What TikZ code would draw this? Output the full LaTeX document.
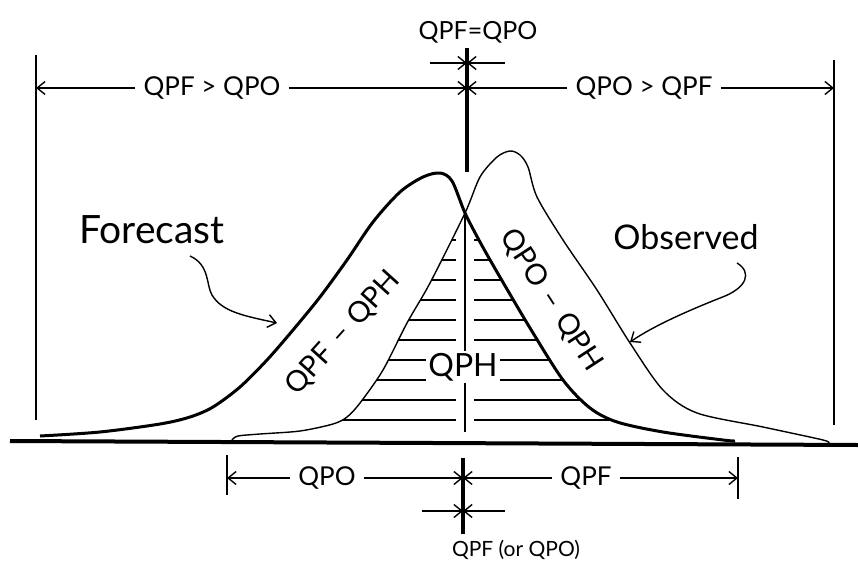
\documentclass[tikz,border=0pt]{standalone}
\usepackage{fontspec}
\setmainfont{Lato}
\usetikzlibrary{arrows.meta}
\begin{document}
\begin{tikzpicture}[x=1pt,y=-1pt,
  thinl/.style={line width=1.4pt},
  arr/.style={line width=1.4pt,-{Straight Barb[length=8pt,width=13pt,line width=1.4pt]}},
  lbl/.style={font=\fontsize{26}{30}\selectfont,inner sep=8pt},
  small/.style={font=\fontsize{25}{29}\selectfont,inner sep=2pt},
  big/.style={font=\fontsize{32}{36}\selectfont,inner sep=2pt},
  heavy/.style={line width=4.5pt},
  fcurve/.style={line width=3pt,line join=round},
  ocurve/.style={line width=1.4pt,line join=round}]
\useasboundingbox (0,0) rectangle (858,575);
\def\fpath{plot[smooth] coordinates {(40,436) (100,432) (160,424) (190,417) (213,407) (240,387) (267,360) (293,330) (320,297) (347,260) (373,222) (400,192) (423,177) (440,173) (452,181) (465,213) (480,242) (497,272) (530,328) (563,380) (590,408) (617,422) (663,432) (723,440) (735,441)}}
\def\opath{plot[smooth] coordinates {(232,440) (238,436) (260,434) (300,431) (333,424) (347,417) (360,403) (383,370) (407,323) (430,283) (465,213) (480,177) (497,157) (510,151) (520,155) (528,167) (537,197) (563,240) (597,290) (630,343) (663,390) (697,413) (763,427) (823,440) (828,443)}}
% hatching
\begin{scope}
  \clip \fpath -- (735,441) -- (40,441) -- cycle;
  \clip \opath -- (828,441) -- (232,441) -- cycle;
  \foreach \y in {240,260,280,300,320,340,360,380,400,420}{
    \draw[thinl] (300,\y) -- (456,\y);
    \draw[thinl] (474,\y) -- (660,\y);
  }
\end{scope}
% curves
\draw[ocurve] \opath;
\draw[fcurve] \fpath;
% thin centre line in QPH area
\coordinate (X) at (465,214);
\coordinate (Xb) at (465,432);
\draw[thinl] (X) -- (Xb);
\node[big,fill=white] (qph) at (463,367) {QPH};
% baseline
\coordinate (b1) at (10,441);
\coordinate (b2) at (858,445);
\draw[line width=4pt] (b1) -- (b2);
% vertical bounds
\coordinate (Lt) at (36,55); \coordinate (Lb) at (36,420);
\coordinate (Rt) at (834,60); \coordinate (Rb) at (834,425);
\draw[thinl] (Lt) -- (Lb);
\draw[thinl] (Rt) -- (Rb);
% centre thick lines
\coordinate (Ct) at (467,48); \coordinate (Cm) at (467,172);
\draw[heavy] (Ct) -- (Cm);
\coordinate (Dt) at (463,458); \coordinate (Db) at (463,534);
\draw[heavy] (Dt) -- (Db);
% top dimension row
\coordinate (L) at (36,88); \coordinate (C) at (467,88); \coordinate (R) at (834,88);
\node[lbl] (t1) at (212,88) {QPF > QPO};
\node[lbl] (t2) at (644,88) {QPO > QPF};
\draw[arr] (t1.west) -- (L);
\draw[arr] (t1.east) -- (C);
\draw[arr] (t2.west) -- (C);
\draw[arr] (t2.east) -- (R);
% QPF=QPO
\node[small] (eq) at (478,32) {QPF=QPO};
\coordinate (e0) at (467,63); \coordinate (e1) at (430,63); \coordinate (e2) at (505,63);
\draw[arr] (e1) -- (e0);
\draw[arr] (e2) -- (e0);
% bottom dimension row
\coordinate (BL) at (227,478); \coordinate (BC) at (463,478); \coordinate (BR) at (738,478);
\coordinate (BLt) at (227,455); \coordinate (BLb) at (227,495);
\coordinate (BRt) at (738,457); \coordinate (BRb) at (738,499);
\draw[thinl] (BLt) -- (BLb);
\draw[thinl] (BRt) -- (BRb);
\node[lbl] (q1) at (327,478) {QPO};
\node[lbl] (q2) at (586,478) {QPF};
\draw[arr] (q1.west) -- (BL);
\draw[arr] (q1.east) -- (BC);
\draw[arr] (q2.west) -- (BC);
\draw[arr] (q2.east) -- (BR);
\coordinate (s0) at (463,511); \coordinate (s1) at (422,511); \coordinate (s2) at (505,511);
\draw[arr] (s1) -- (s0);
\draw[arr] (s2) -- (s0);
\node[font=\fontsize{21}{25}\selectfont,inner sep=2pt] (orq) at (516,550) {QPF (or QPO)};
% region labels
\node[font=\fontsize{29}{33}\selectfont,rotate=48] (fq) at (343,333) {QPF\,\,–\,\,QPH};
\node[font=\fontsize{29}{33}\selectfont,rotate=-57] (oq) at (551,300) {QPO\,\,–\,\,QPH};
% Forecast / Observed labels and arrows
\node[font=\fontsize{39}{44}\selectfont] (fc) at (152,230) {Forecast};
\node[font=\fontsize{34}{38}\selectfont] (ob) at (686,237) {Observed};
\coordinate (fa0) at (190,256); \coordinate (fa1) at (277,323);
\draw[arr] (fa0) .. controls (210,265) and (206,285) .. (212,295) .. controls (222,312) and (245,316) .. (fa1);
\coordinate (oa0) at (737,263); \coordinate (oa1) at (630,342);
\draw[arr] (oa0) .. controls (752,272) and (748,288) .. (720,298) .. controls (690,310) and (655,325) .. (oa1);
\end{tikzpicture}
\end{document}
